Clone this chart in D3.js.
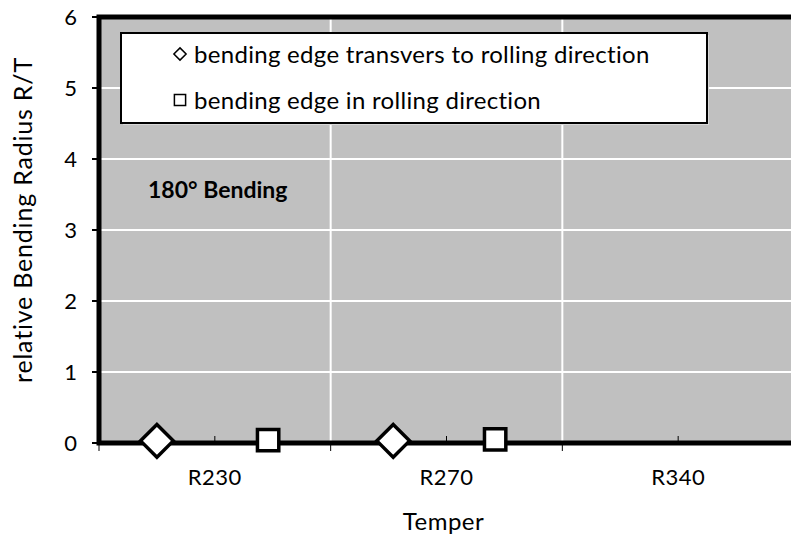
<!DOCTYPE html>
<html>
<head>
<meta charset="utf-8">
<script src="https://cdn.jsdelivr.net/npm/d3@7"></script>
<style>
  body { margin: 0; background: #fff; }
  text { font-family: Lato, "Open Sans", sans-serif; fill: #000; }
</style>
</head>
<body>
<script>
// categories on the x axis
var tempers = ["R230", "R270", "R340"];
var yTicks = [0, 1, 2, 3, 4, 5, 6];

// marker positions (x in category units) and values
var transversX = [0.25, 1.27];
var transversY = [0.03, 0.03];
var rollingX = [0.73, 1.71];
var rollingY = [0.04, 0.05];

var width = 791, height = 537;
var margin = {top: 17, right: -3, bottom: 94, left: 99};
var w = width - margin.left - margin.right,
    h = height - margin.top - margin.bottom;

var svg = d3.select("body").append("svg")
  .attr("width", width)
  .attr("height", height);

var g = svg.append("g")
  .attr("transform", "translate(" + margin.left + "," + margin.top + ")");

var x = d3.scaleBand().domain(tempers).range([0, w]);
var xl = d3.scaleLinear().domain([0, tempers.length]).range([0, w]);
var y = d3.scaleLinear().domain([0, 6]).range([h, 0]);

// plot background
g.append("rect")
  .attr("width", w).attr("height", h)
  .style("fill", "#c0c0c0");

// gridlines
g.selectAll(".hgrid")
  .data(yTicks.slice(1))
.enter().append("line")
  .attr("x1", 0).attr("x2", w)
  .attr("y1", function(d) { return y(d); })
  .attr("y2", function(d) { return y(d); })
  .style("stroke", "#fff").style("stroke-width", 2);

g.selectAll(".vgrid")
  .data(tempers.slice(1))
.enter().append("line")
  .attr("x1", function(d) { return x(d); })
  .attr("x2", function(d) { return x(d); })
  .attr("y1", 0).attr("y2", h)
  .style("stroke", "#fff").style("stroke-width", 2);

// y axis ticks + labels
g.selectAll(".ytick")
  .data(yTicks)
.enter().append("line")
  .attr("x1", -7).attr("x2", 0)
  .attr("y1", function(d) { return y(d); })
  .attr("y2", function(d) { return y(d); })
  .style("stroke", "#000").style("stroke-width", 2);

g.selectAll(".ylab")
  .data(yTicks)
.enter().append("text")
  .attr("x", -22)
  .attr("y", function(d) { return y(d); })
  .attr("dy", "0.36em")
  .attr("text-anchor", "end")
  .style("font-size", "22px")
  .text(function(d) { return d; });

// x axis ticks: outward at boundaries, inward at category centres
g.selectAll(".xtick")
  .data(tempers)
.enter().append("line")
  .attr("x1", function(d) { return x(d); })
  .attr("x2", function(d) { return x(d); })
  .attr("y1", h).attr("y2", h + 8)
  .style("stroke", "#000").style("stroke-width", 1);

g.selectAll(".xtickc")
  .data(tempers)
.enter().append("line")
  .attr("x1", function(d) { return x(d) + x.bandwidth() / 2; })
  .attr("x2", function(d) { return x(d) + x.bandwidth() / 2; })
  .attr("y1", h - 7).attr("y2", h)
  .style("stroke", "#000").style("stroke-width", 1);

g.selectAll(".xlab")
  .data(tempers)
.enter().append("text")
  .attr("x", function(d) { return x(d) + x.bandwidth() / 2; })
  .attr("y", h + 42)
  .attr("text-anchor", "middle")
  .style("font-size", "22px")
  .style("letter-spacing", "0.5px")
  .text(function(d) { return d; });

// frame: left, top, bottom
g.append("path")
  .attr("d", "M" + w + ",0H0V" + h + "H" + w)
  .style("fill", "none").style("stroke", "#000").style("stroke-width", 5);

// markers
var diamondPath = d3.symbol(d3.symbolDiamond2, 680)();
var squarePath = d3.symbol(d3.symbolSquare2, 580)();

g.selectAll(".dia")
  .data(transversX.map(function(v, i) { return [v, transversY[i]]; }))
.enter().append("path")
  .attr("transform", function(d) { return "translate(" + xl(d[0]) + "," + y(d[1]) + ")"; })
  .attr("d", diamondPath)
  .style("fill", "#fff").style("stroke", "#000").style("stroke-width", 3.5);

g.selectAll(".sq")
  .data(rollingX.map(function(v, i) { return [v, rollingY[i]]; }))
.enter().append("path")
  .attr("transform", function(d) { return "translate(" + xl(d[0]) + "," + y(d[1]) + ")"; })
  .attr("d", squarePath)
  .style("fill", "#fff").style("stroke", "#000").style("stroke-width", 3.5);

// annotation
g.append("text")
  .attr("x", 49).attr("y", 181)
  .style("font-size", "23px").style("font-weight", "bold")
  .text("180° Bending");

// legend
var legend = g.append("g").attr("transform", "translate(22,16)");
legend.append("rect")
  .attr("x", 2).attr("y", 2)
  .attr("width", 586).attr("height", 90)
  .style("fill", "#d8d8d8");
legend.append("rect")
  .attr("width", 586).attr("height", 90)
  .style("fill", "#fff").style("stroke", "#000").style("stroke-width", 2);

var legendItems = [
  {label: "bending edge transvers to rolling direction", sym: d3.symbol(d3.symbolDiamond2, 95)()},
  {label: "bending edge in rolling direction", sym: d3.symbol(d3.symbolSquare2, 160)()}
];
var li = legend.selectAll(".li")
  .data(legendItems)
.enter().append("g")
  .attr("transform", function(d, i) { return "translate(59," + (21 + i * 46) + ")"; });
li.append("path")
  .attr("d", function(d) { return d.sym; })
  .style("fill", "#fff").style("stroke", "#000").style("stroke-width", 1.5);
li.append("text")
  .attr("x", 14).attr("dy", "0.36em")
  .style("font-size", "24px")
  .style("letter-spacing", "0.3px")
  .text(function(d) { return d.label; });

// axis titles
svg.append("text")
  .attr("x", margin.left + x("R270") + x.bandwidth() / 2 - 3)
  .attr("y", 530)
  .attr("text-anchor", "middle")
  .style("font-size", "24px")
  .style("letter-spacing", "0.5px")
  .text("Temper");

svg.append("text")
  .attr("transform", "translate(32,220) rotate(-90)")
  .attr("text-anchor", "middle")
  .style("font-size", "25px")
  .style("letter-spacing", "0.8px")
  .text("relative Bending Radius R/T");
</script>
</body>
</html>
